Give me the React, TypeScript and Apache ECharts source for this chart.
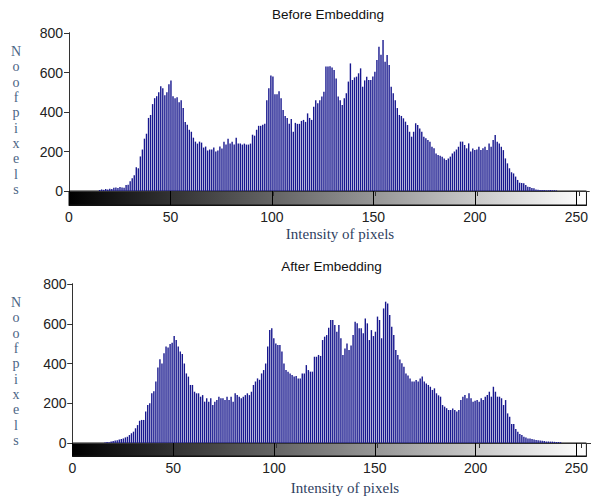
import React, { useEffect, useRef } from "react";
import * as echarts from "echarts";

// Gray levels 0..255 (histogram bins)
const intensity = Array.from({ length: 256 }, (_, i) => i);

// Pixel counts per gray level, before embedding
const beforeCounts = [
  0, 0, 0, 0, 0, 0, 0, 0, 0, 0, 0, 0, 0, 0, 0, 5,
  8, 6, 10, 8, 12, 10, 16, 18, 15, 20, 18, 16, 30, 32, 50, 65,
  80, 120, 115, 175, 210, 265, 290, 370, 385, 440, 470, 480, 500, 530, 520, 485,
  500, 540, 560, 480, 470, 475, 450, 460, 420, 350, 335, 310, 300, 270, 250, 240,
  250, 245, 220, 225, 205, 210, 210, 220, 200, 205, 225, 215, 250, 235, 265, 240,
  250, 235, 270, 240, 240, 235, 240, 235, 235, 240, 285, 280, 310, 330, 330, 335,
  340, 460, 520, 585, 580, 490, 490, 505, 470, 410, 380, 370, 340, 365, 300, 345,
  340, 340, 355, 360, 350, 393, 370, 360, 427, 460, 444, 460, 478, 503, 630, 630,
  632, 625, 613, 570, 478, 460, 436, 470, 495, 554, 646, 562, 575, 579, 596, 621,
  528, 560, 579, 562, 562, 580, 604, 663, 731, 690, 765, 655, 689, 638, 528, 495,
  460, 420, 385, 380, 368, 351, 334, 300, 275, 300, 343, 334, 317, 300, 275, 267,
  258, 250, 224, 216, 190, 182, 178, 174, 165, 157, 165, 174, 190, 200, 210, 224,
  250, 250, 233, 216, 241, 200, 215, 207, 210, 224, 207, 216, 224, 207, 241, 224,
  258, 283, 250, 241, 224, 207, 165, 140, 115, 95, 89, 73, 56, 42, 40, 39,
  30, 22, 20, 15, 14, 8, 6, 5, 5, 5, 4, 4, 5, 4, 4, 3,
  0, 0, 0, 0, 0, 0, 0, 0, 0, 0, 0, 0, 0, 0, 0, 0,
];

// Pixel counts per gray level, after embedding
const afterCounts = [
  0, 0, 0, 0, 0, 0, 0, 0, 0, 0, 0, 0, 0, 0, 0, 0,
  3, 5, 4, 8, 10, 12, 14, 18, 20, 23, 28, 32, 40, 49, 57, 74,
  90, 112, 116, 116, 158, 191, 200, 250, 260, 309, 380, 421, 400, 451, 485, 481,
  498, 505, 538, 518, 485, 460, 448, 400, 350, 334, 292, 292, 258, 250, 250, 233,
  241, 208, 225, 208, 225, 191, 208, 216, 233, 225, 225, 216, 233, 216, 233, 208,
  250, 241, 233, 225, 233, 241, 250, 241, 258, 292, 310, 325, 318, 350, 367, 400,
  485, 568, 577, 527, 501, 493, 493, 460, 400, 367, 359, 350, 342, 334, 337, 325,
  325, 350, 350, 392, 367, 359, 359, 434, 434, 443, 438, 518, 535, 543, 580, 619,
  619, 594, 560, 594, 527, 443, 476, 501, 468, 490, 543, 610, 602, 577, 577, 552,
  627, 602, 518, 568, 538, 560, 636, 619, 527, 677, 711, 702, 644, 585, 543, 468,
  443, 420, 401, 384, 350, 340, 325, 309, 309, 317, 309, 325, 334, 309, 300, 292,
  283, 267, 275, 250, 240, 233, 191, 183, 175, 166, 166, 174, 166, 158, 166, 216,
  233, 241, 225, 250, 225, 208, 212, 216, 208, 225, 216, 233, 241, 258, 233, 283,
  258, 233, 233, 225, 191, 216, 149, 132, 96, 96, 70, 57, 45, 40, 32, 28,
  23, 23, 20, 18, 15, 14, 12, 11, 10, 8, 8, 7, 7, 6, 5, 5,
  4, 0, 0, 0, 0, 0, 0, 0, 0, 0, 0, 0, 0, 0, 0, 0,
];

const xTicks = [0, 50, 100, 150, 200, 250];
const yTicks = [0, 200, 400, 600, 800];
const titles = ["Before Embedding", "After Embedding"];
const xLabel = "Intensity of pixels";
const yLabelLetters = ["N", "o", "o", "f", "p", "i", "x", "e", "l", "s"];

const WIDTH = 591;
const HEIGHT = 498;
const PLOT_W = 520;
const SANS = "'Liberation Sans', Arial, sans-serif";
const SERIF = "'Liberation Serif', 'Times New Roman', serif";

// Layout of the two stacked panels (histogram + gray-level colour bar)
const panels = [
  { counts: beforeCounts, left: 69, top: 33, histH: 158, barH: 14, titleY: 14, xLabelX: 340, xLabelY: 234, yLabelTop: 44 },
  { counts: afterCounts, left: 72.5, top: 284, histH: 159, barH: 13, titleY: 266, xLabelX: 345, xLabelY: 488, yLabelTop: 295 },
];

function buildOption() {
  const grid: any[] = [];
  const xAxis: any[] = [];
  const yAxis: any[] = [];
  const series: any[] = [];
  const graphic: any[] = [];

  panels.forEach((p, k) => {
    const gHist = 2 * k;
    const gBar = 2 * k + 1;
    grid.push({ left: p.left, top: p.top, width: PLOT_W, height: p.histH });
    grid.push({
      left: p.left,
      top: p.top + p.histH,
      width: PLOT_W,
      height: p.barH,
      show: true,
      borderColor: "#111",
      borderWidth: 1,
      backgroundColor: {
        type: "linear",
        x: 0, y: 0, x2: 1, y2: 0,
        colorStops: [
          { offset: 0, color: "#000000" },
          { offset: 1, color: "#ffffff" },
        ],
      },
    });

    const xBase = xAxis.length;
    // histogram bottom edge
    xAxis.push({
      type: "value", gridIndex: gHist, min: 0, max: 255, position: "bottom",
      axisLine: { show: true, lineStyle: { color: "#000", width: 1 } },
      axisTick: { show: false }, axisLabel: { show: false }, splitLine: { show: false },
    });
    // histogram top edge with inward ticks
    xAxis.push({
      type: "value", gridIndex: gHist, min: 0, max: 255, position: "top",
      axisLine: { show: true, lineStyle: { color: "#333", width: 1 } },
      axisTick: { show: true, inside: true, length: 5, customValues: xTicks, lineStyle: { color: "#333" } },
      axisLabel: { show: false }, splitLine: { show: false },
    });
    // colour bar axis carrying the intensity labels
    xAxis.push({
      type: "value", gridIndex: gBar, min: 0, max: 255, position: "bottom",
      axisLine: { show: true, lineStyle: { color: "#111", width: 1 } },
      axisTick: { show: true, inside: true, length: p.barH, customValues: xTicks, lineStyle: { color: "#000" } },
      axisLabel: { show: true, customValues: xTicks, margin: 5, fontSize: 14, color: "#222", fontFamily: SANS },
      splitLine: { show: false },
    });

    const yBase = yAxis.length;
    yAxis.push({
      type: "value", gridIndex: gHist, min: 0, max: 800, interval: 200, position: "left",
      axisLine: { show: true, lineStyle: { color: "#000", width: 1 } },
      axisTick: { show: true, inside: false, length: 5, customValues: yTicks, lineStyle: { color: "#000" } },
      axisLabel: { show: true, customValues: yTicks, margin: 6, fontSize: 14, color: "#222", fontFamily: SANS },
      splitLine: { show: false },
    });
    yAxis.push({
      type: "value", gridIndex: gHist, min: 0, max: 800, interval: 200, position: "right",
      axisLine: { show: true, lineStyle: { color: "#333", width: 1 } },
      axisTick: { show: true, inside: true, length: 5, customValues: yTicks, lineStyle: { color: "#333" } },
      axisLabel: { show: false }, splitLine: { show: false },
    });
    yAxis.push({ type: "value", gridIndex: gBar, min: 0, max: 1, show: false });

    series.push({
      type: "bar",
      xAxisIndex: xBase,
      yAxisIndex: yBase,
      barWidth: 1.4,
      data: intensity.map((i) => [i, p.counts[i]]),
      itemStyle: { color: "#18188e" },
      silent: true,
    });

    graphic.push({
      type: "text",
      x: p.left + PLOT_W / 2 - 1,
      y: p.titleY,
      style: {
        text: titles[k], fill: "#111", font: `13.5px ${SANS}`,
        textAlign: "center", textVerticalAlign: "middle",
      },
    });
    graphic.push({
      type: "text",
      x: p.xLabelX,
      y: p.xLabelY,
      style: {
        text: xLabel, fill: "#2f3f5f", font: `15px ${SERIF}`,
        textAlign: "center", textVerticalAlign: "middle",
      },
    });
    graphic.push({
      type: "text",
      x: 16,
      y: p.yLabelTop,
      style: {
        text: yLabelLetters.join("\n"), fill: "#4b6585", font: `14px ${SERIF}`,
        lineHeight: 15.3, textAlign: "center", textVerticalAlign: "top",
      },
    });
  });

  return { animation: false, backgroundColor: "#ffffff", grid, xAxis, yAxis, series, graphic };
}

export default function App() {
  const ref = useRef<HTMLDivElement>(null);

  useEffect(() => {
    document.body.style.margin = "0";
    if (!ref.current) return;
    const chart = echarts.init(ref.current, undefined, { renderer: "svg" });
    chart.setOption(buildOption());
    return () => chart.dispose();
  }, []);

  return (
    <div
      ref={ref}
      style={{ position: "absolute", left: 0, top: 0, width: WIDTH, height: HEIGHT, overflow: "hidden" }}
    />
  );
}
